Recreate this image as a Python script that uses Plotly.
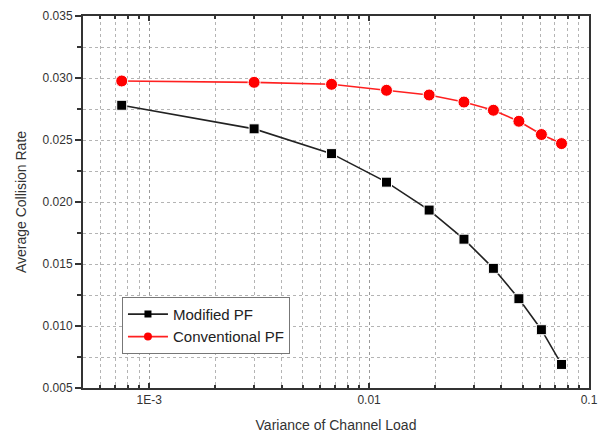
import plotly.graph_objects as go

variance = [0.00075, 0.003, 0.00675, 0.012, 0.01875, 0.027, 0.03675, 0.048, 0.06075, 0.075]
modified_pf = [0.0278, 0.0259, 0.0239, 0.0216, 0.01935, 0.0170, 0.01465, 0.0122, 0.0097, 0.0069]
conventional_pf = [0.02976, 0.02965, 0.02949, 0.02901, 0.02863, 0.02806, 0.02740, 0.02651, 0.02544, 0.02471]

x_major = [0.001, 0.01, 0.1]
x_major_text = ["1E-3", "0.01", "0.1"]
x_minor = [0.0005, 0.0006, 0.0007, 0.0008, 0.0009,
           0.002, 0.003, 0.004, 0.005, 0.006, 0.007, 0.008, 0.009,
           0.02, 0.03, 0.04, 0.05, 0.06, 0.07, 0.08, 0.09]

FONT = "Liberation Sans, Arial, sans-serif"
GRID = "#b4b4b4"
BLACK_LINE = "#222222"
RED_LINE = "#ff2020"

fig = go.Figure()
fig.add_trace(go.Scatter(
    x=variance, y=modified_pf, name="Modified PF", mode="lines+markers", showlegend=False,
    line=dict(color=BLACK_LINE, width=1.6),
    marker=dict(symbol="square", size=10, color="black", line=dict(color="white", width=1)),
))
fig.add_trace(go.Scatter(
    x=variance, y=conventional_pf, name="Conventional PF", mode="lines+markers", showlegend=False,
    line=dict(color=RED_LINE, width=1.6),
    marker=dict(symbol="circle", size=12, color="#ff0000", line=dict(color="white", width=1)),
))
# legend-only entries (smaller legend symbols, as in the reference)
fig.add_trace(go.Scatter(
    x=[None], y=[None], name="Modified PF", mode="lines+markers",
    line=dict(color=BLACK_LINE, width=1.6),
    marker=dict(symbol="square", size=7, color="black"),
))
fig.add_trace(go.Scatter(
    x=[None], y=[None], name="Conventional PF", mode="lines+markers",
    line=dict(color=RED_LINE, width=1.6),
    marker=dict(symbol="circle", size=8, color="#ff0000"),
))

fig.update_layout(
    width=601, height=427,
    margin=dict(l=75, r=20, t=8, b=47),
    paper_bgcolor="white", plot_bgcolor="white",
    font=dict(family=FONT, color="#333333"),
    showlegend=True,
    legend=dict(
        x=0.077, y=0.245, xanchor="left", yanchor="top",
        bgcolor="white", bordercolor="#777777", borderwidth=1,
        font=dict(size=15, color="#222222", family=FONT),
        tracegroupgap=0, itemwidth=40,
    ),
    xaxis=dict(
        type="log", range=[-3.30103, -1], automargin=False,
        tickmode="array", tickvals=x_major, ticktext=x_major_text,
        ticks="inside", ticklen=5, tickwidth=1.5, tickcolor="#333333",
        showline=True, linecolor="#333333", linewidth=2, mirror="allticks",
        showgrid=True, gridcolor="#999999", griddash="dot", gridwidth=1,
        minor=dict(tickmode="array", tickvals=x_minor, ticks="inside", ticklen=3,
                   tickcolor="#333333", showgrid=True, gridcolor=GRID, griddash="dot", gridwidth=1),
        tickfont=dict(size=12, color="#333333"),
        title=dict(text="Variance of Channel Load", font=dict(size=14, color="#333333"), standoff=14),
        zeroline=False,
    ),
    yaxis=dict(
        range=[0.005, 0.035], dtick=0.005, tick0=0.005, tickformat=".3f", automargin=False,
        ticks="outside", ticklen=6, tickwidth=1.5, tickcolor="#333333",
        showline=True, linecolor="#333333", linewidth=2, mirror=True,
        showgrid=True, gridcolor=GRID, griddash="dot", gridwidth=1,
        minor=dict(dtick=0.0025, tick0=0.005, ticks="outside", ticklen=4,
                   tickcolor="#333333", showgrid=True, gridcolor=GRID, griddash="dot", gridwidth=1),
        tickfont=dict(size=12, color="#333333"),
        title=dict(text="Average Collision Rate", font=dict(size=14, color="#333333"), standoff=13),
        zeroline=False,
    ),
    yaxis2=dict(
        overlaying="y", side="right", range=[0.005, 0.035], dtick=0.005, tick0=0.005,
        automargin=False,
        ticks="inside", ticklen=6, tickwidth=1.5, tickcolor="#333333",
        showticklabels=False, showgrid=False, zeroline=False,
        showline=True, linecolor="#555555", linewidth=2.5,
        minor=dict(dtick=0.0025, tick0=0.005, ticks="inside", ticklen=4, tickcolor="#333333", showgrid=False),
    ),
)

fig.write_html("out.html")
